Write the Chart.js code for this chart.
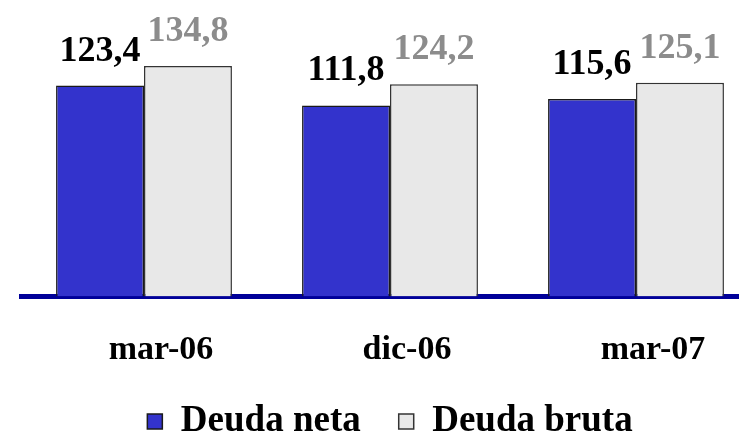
<!DOCTYPE html>
<html>
<head>
<meta charset="utf-8">
<script src="https://cdn.jsdelivr.net/npm/chart.js@4"></script>
<style>
  html, body { margin: 0; padding: 0; background: #fff; overflow: hidden; }
  #wrap { width: 760px; height: 450px; }
</style>
</head>
<body>
<div id="wrap"><canvas id="deudaChart" width="760" height="450"></canvas></div>
<script>
const periods = ['mar-06', 'dic-06', 'mar-07'];
const deudaNeta = [123.4, 111.8, 115.6];
const deudaBruta = [134.8, 124.2, 125.1];
const seriesNames = ['Deuda neta', 'Deuda bruta'];

const SERIF = '"Liberation Serif", "Times New Roman", serif';

// etiquetas de valor encima de cada barra (formato con coma)
const valueLabels = {
  id: 'valueLabels',
  afterDatasetsDraw(chart) {
    const ctx = chart.ctx;
    const colors = ['#000000', '#8c8c8c'];
    ctx.save();
    ctx.font = 'bold 36px ' + SERIF;
    ctx.textAlign = 'center';
    ctx.textBaseline = 'alphabetic';
    chart.data.datasets.forEach((ds, i) => {
      const meta = chart.getDatasetMeta(i);
      meta.data.forEach((bar, j) => {
        ctx.fillStyle = colors[i];
        ctx.fillText(ds.data[j].toFixed(1).replace('.', ','), bar.x, bar.y - 25);
      });
    });
    ctx.restore();
  }
};

new Chart(document.getElementById('deudaChart'), {
  type: 'bar',
  data: {
    labels: periods,
    datasets: [{
      label: seriesNames[0],
      data: deudaNeta,
      backgroundColor: '#3333cc',
      borderColor: '#1a1a1a',
      borderWidth: 1.5,
      borderSkipped: 'bottom'
    }, {
      label: seriesNames[1],
      data: deudaBruta,
      backgroundColor: '#e8e8e8',
      borderColor: '#333333',
      borderWidth: 1.5,
      borderSkipped: 'bottom'
    }]
  },
  options: {
    responsive: false,
    animation: false,
    layout: { padding: { left: 21, right: 1, top: 23, bottom: 0 } },
    categoryPercentage: 0.715,
    barPercentage: 1.0,
    scales: {
      x: {
        z: 1,
        grid: { display: false, drawTicks: false },
        border: { display: true, color: '#000099', width: 5 },
        ticks: {
          color: '#000',
          padding: 33,
          labelOffset: 17,
          font: { family: SERIF, size: 34, weight: 'bold' }
        },
        afterFit: scale => { scale.height = 68.5; }
      },
      y: {
        display: false,
        min: 0,
        max: 160
      }
    },
    plugins: {
      legend: {
        position: 'bottom',
        labels: {
          color: '#000',
          boxWidth: 15,
          boxHeight: 15,
          padding: 38,
          font: { family: SERIF, size: 37, weight: 'bold' }
        }
      },
      tooltip: { enabled: false }
    }
  },
  plugins: [valueLabels]
});
</script>
</body>
</html>
